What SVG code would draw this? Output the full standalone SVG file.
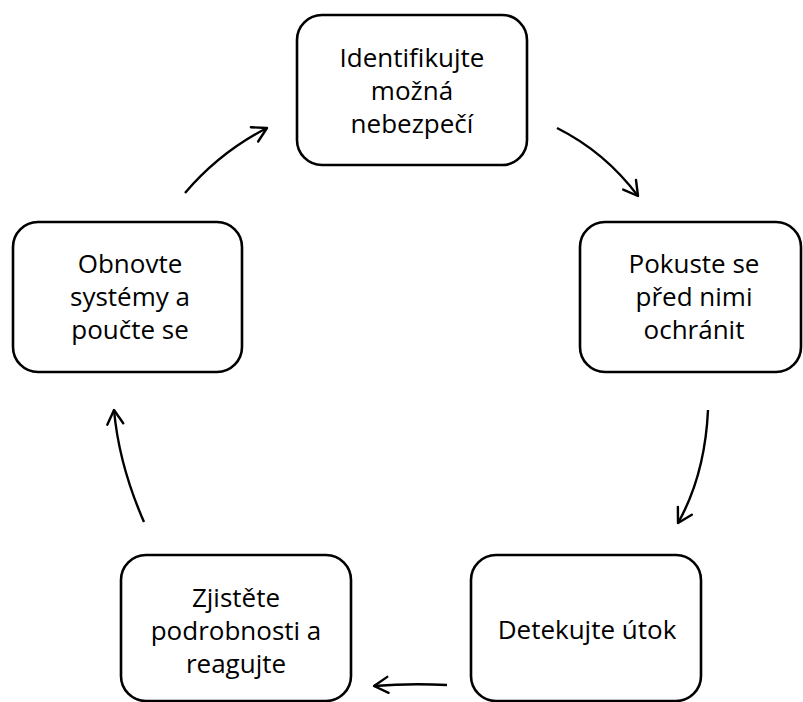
<svg xmlns="http://www.w3.org/2000/svg" width="803" height="702" viewBox="0 0 803 702">
<style>
.box{fill:#fff;stroke:#000;stroke-width:2.6}
.lbl{font-family:"Open Sans","Liberation Sans",sans-serif;font-size:26px;fill:#000;text-anchor:middle;font-variant-ligatures:none}
.arr{fill:none;stroke:#000;stroke-width:2.4;marker-end:url(#ah)}
</style>
<defs>
<marker id="ah" viewBox="0 0 20 20" refX="17" refY="10" markerWidth="20" markerHeight="20" markerUnits="userSpaceOnUse" orient="auto">
<path d="M3,2 L17,10 L3,18" fill="none" stroke="#000" stroke-width="2.4" stroke-linecap="round" stroke-linejoin="round"/>
</marker>
</defs>
<rect width="803" height="702" fill="#fff"/>
<g id="n1">
<rect class="box" x="297" y="15" width="230" height="150" rx="25"/>
<text class="lbl" x="412" y="67">Identifikujte</text>
<text class="lbl" x="412" y="100">možná</text>
<text class="lbl" x="412" y="133">nebezpečí</text>
</g>
<g id="n2">
<rect class="box" x="580" y="222" width="221" height="150" rx="25"/>
<text class="lbl" x="694" y="273">Pokuste se</text>
<text class="lbl" x="694" y="306">před nimi</text>
<text class="lbl" x="694" y="339">ochránit</text>
</g>
<g id="n3">
<rect class="box" x="471" y="555" width="230" height="146" rx="25"/>
<text class="lbl" x="587" y="639">Detekujte útok</text>
</g>
<g id="n4">
<rect class="box" x="121" y="555" width="230" height="146" rx="25"/>
<text class="lbl" x="236" y="607">Zjistěte</text>
<text class="lbl" x="236" y="640">podrobnosti a</text>
<text class="lbl" x="236" y="673">reagujte</text>
</g>
<g id="n5">
<rect class="box" x="13" y="222" width="229" height="150" rx="25"/>
<text class="lbl" x="130" y="273">Obnovte</text>
<text class="lbl" x="130" y="306">systémy a</text>
<text class="lbl" x="130" y="339">poučte se</text>
</g>
<g id="connectors">
<path class="arr" d="M557,128 Q605,152 638,196"/>
<path class="arr" d="M708,410 Q705,475 678,523"/>
<path class="arr" d="M447,685 Q410,683 374,686"/>
<path class="arr" d="M144,522 Q119,465 114,410"/>
<path class="arr" d="M185,193 Q220,152 267,128"/>
</g>
</svg>
